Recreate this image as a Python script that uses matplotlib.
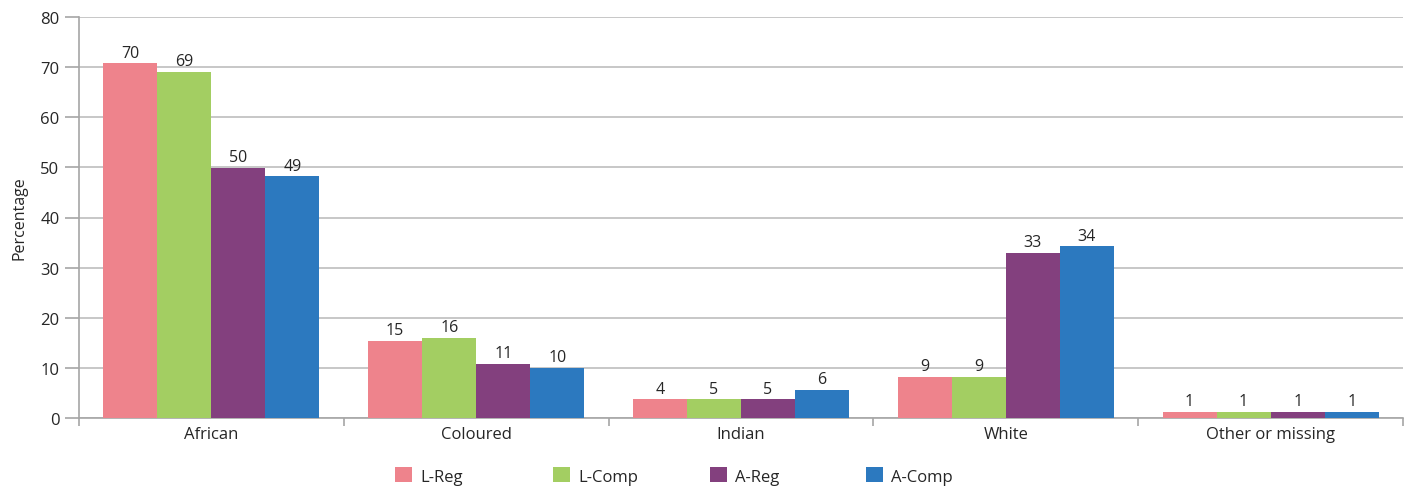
import matplotlib
matplotlib.use("Agg")
import matplotlib.pyplot as plt
import numpy as np

categories = ["African", "Coloured", "Indian", "White", "Other or missing"]
series_names = ["L-Reg", "L-Comp", "A-Reg", "A-Comp"]
l_reg = [70.8, 15.4, 3.7, 8.2, 1.2]
l_comp = [69.1, 16.0, 3.7, 8.2, 1.2]
a_reg = [49.9, 10.8, 3.7, 33.0, 1.2]
a_comp = [48.2, 10.0, 5.6, 34.3, 1.2]
l_reg_lbl = ["70", "15", "4", "9", "1"]
l_comp_lbl = ["69", "16", "5", "9", "1"]
a_reg_lbl = ["50", "11", "5", "33", "1"]
a_comp_lbl = ["49", "10", "6", "34", "1"]
y_ticks = [0, 10, 20, 30, 40, 50, 60, 70, 80]

colors = ["#EE838C", "#A3CE62", "#83407E", "#2C79BF"]
values = [l_reg, l_comp, a_reg, a_comp]
labels = [l_reg_lbl, l_comp_lbl, a_reg_lbl, a_comp_lbl]

plt.rcParams['font.family'] = ['Open Sans', 'DejaVu Sans']

fig = plt.figure(figsize=(14.08, 4.89), dpi=100)
ax = fig.add_axes([79/1408, 1-419/489, (1403-79)/1408, (419-18)/489])

x = np.arange(len(categories))
bw = 0.204
handles = []
for i, (vals, lbls, c, name) in enumerate(zip(values, labels, colors, series_names)):
    pos = x + (i - 1.5) * bw
    bars = ax.bar(pos, vals, width=bw, color=c, label=name, zorder=3)
    handles.append(bars)
    for b, t in zip(bars, lbls):
        ax.text(b.get_x() + b.get_width()/2, b.get_height() + 0.5, t,
                ha='center', va='bottom', fontsize=11.5, color='#262626', zorder=4)

ax.set_xlim(-0.5, len(categories) - 0.5)
ax.set_ylim(0, 80)
ax.set_yticks(y_ticks)
ax.yaxis.grid(True, color='#BDBDBD', linewidth=1.2, zorder=0)
ax.set_axisbelow(True)
for s in ['top', 'right']:
    ax.spines[s].set_visible(False)
ax.spines['left'].set_color('#A6A6A6')
ax.spines['left'].set_linewidth(1.2)
ax.spines['bottom'].set_color('#A6A6A6')
ax.spines['bottom'].set_linewidth(1.2)
ax.tick_params(axis='y', length=10, width=1.2, color='#A6A6A6', labelsize=12, labelcolor='#262626', pad=4)

ax.set_xticks(x)
ax.set_xticklabels(categories)
ax.tick_params(axis='x', length=0, labelsize=12, labelcolor='#262626', pad=6)
ax.set_xticks(np.arange(len(categories) + 1) - 0.5, minor=True)
ax.tick_params(axis='x', which='minor', length=6, width=1.2, color='#A6A6A6')

ax.set_ylabel("Percentage", fontsize=11.5, color='#262626', labelpad=9)

legend_x = [395, 553, 710, 866]
for h, name, lx in zip(handles, series_names, legend_x):
    fig.legend([h], [name], loc='center left', bbox_to_anchor=(lx/1408, 1-477/489),
               frameon=False, fontsize=12, handlelength=1.0, handleheight=1.0,
               handletextpad=0.5, borderpad=0, borderaxespad=0, labelcolor='#262626')

fig.savefig("out.png", dpi=100)
